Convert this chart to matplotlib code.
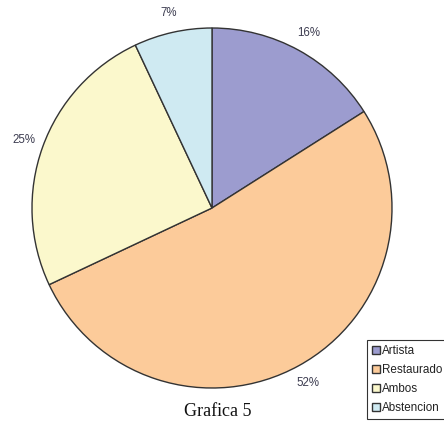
import matplotlib
matplotlib.use("Agg")
import matplotlib.pyplot as plt

# --- DATA ---
categories = ["Artista", "Restaurado", "Ambos", "Abstencion"]
shares = [16, 52, 25, 7]
colors = ["#9c9ccf", "#fccb9a", "#fbf8cc", "#cfeaf2"]

fig = plt.figure(figsize=(4.44, 4.21), dpi=100)
fig.patch.set_facecolor("white")

# pie box: centre ~(212,208) px, radius ~180 px
ax = fig.add_axes([32 / 444, 33 / 421, 360 / 444, 360 / 421])
wedges, texts, autotexts = ax.pie(
    shares,
    colors=colors,
    startangle=90,
    counterclock=False,
    autopct="%1.0f%%",
    pctdistance=1.11,
    wedgeprops=dict(edgecolor="#333333", linewidth=1.0),
    textprops=dict(fontsize=8.3, color="#3c3c50", family="Liberation Sans"),
)
ax.set_xlim(-1, 1)
ax.set_ylim(-1, 1)
ax.set_aspect("equal")

leg = fig.legend(
    wedges, categories,
    loc="upper left",
    bbox_to_anchor=(367 / 444, 1 - 340 / 421),
    prop=dict(family="Liberation Sans", size=8.4),
    handlelength=0.7, handleheight=0.7, handletextpad=0.2,
    labelspacing=0.62, borderpad=0.4, borderaxespad=0,
    fancybox=False, frameon=True,
)
leg.get_frame().set_edgecolor("black")
leg.get_frame().set_linewidth(0.8)
for text in leg.get_texts():
    text.set_color("#222222")

fig.text(218 / 444, 1 - 411 / 421, "Grafica 5", ha="center", va="center",
         family="Liberation Serif", fontsize=13, color="#111111")

plt.savefig("out.png", dpi=100)
plt.close(fig)
